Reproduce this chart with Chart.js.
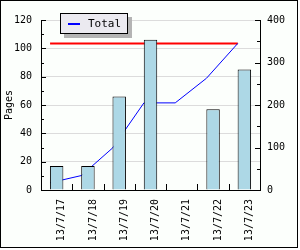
<!DOCTYPE html>
<html>
<head>
<meta charset="utf-8">
<script src="https://cdn.jsdelivr.net/npm/chart.js@4"></script>
<style>
  body { margin: 0; background: #fff; }
  #wrap { position: relative; width: 300px; height: 250px; }
  #frame { position: absolute; left: 0; top: 0; width: 296px; height: 246px; border: 1px solid #000; background: #fcfffc; }
  #c { position: absolute; left: 0; top: 0; }
  #legend {
    position: absolute; left: 60px; top: 13px; width: 66px; height: 19px;
    border: 1px solid #000; background: #ebeaf0; box-shadow: 4px 4px 0 #b4b4b4;
    font: 11px "DejaVu Sans Mono", monospace; color: #000;
  }
  #legend .sw { position: absolute; left: 7px; top: 9px; width: 12px; height: 2px; background: #0000ff; }
  #legend .tx { position: absolute; left: 27px; top: 3px; }
</style>
</head>
<body>
<div id="wrap">
  <div id="frame"></div>
  <canvas id="c" width="300" height="250"></canvas>
  <div id="legend"><span class="sw"></span><span class="tx">Total</span></div>
</div>
<script>
const labels = ['13/7/17', '13/7/18', '13/7/19', '13/7/20', '13/7/21', '13/7/22', '13/7/23'];
const pages = [17, 17, 66, 106, 0, 57, 85];
const total = [17, 34, 99, 205, 205, 263, 345];
const limit = [345, 345, 345, 345, 345, 345, 345];

const FONT = { family: 'DejaVu Sans Mono', size: 10 };

// ticks pointing into the plot, like the original
const inwardTicks = {
    id: 'inwardTicks',
    afterDraw(chart) {
        const ctx = chart.ctx, a = chart.chartArea;
        ctx.save();
        ctx.strokeStyle = '#000';
        ctx.lineWidth = 1;
        const seg = (x1, y1, x2, y2) => { ctx.beginPath(); ctx.moveTo(x1, y1); ctx.lineTo(x2, y2); ctx.stroke(); };

        const yl = chart.scales.y;
        yl.ticks.forEach(t => {
            const py = Math.round(yl.getPixelForValue(t.value)) + 0.5;
            seg(a.left, py, a.left + (t.value % 20 === 0 ? 5 : 3), py);
        });
        const yr = chart.scales.y2;
        yr.ticks.forEach(t => {
            const py = Math.round(yr.getPixelForValue(t.value)) + 0.5;
            seg(a.right, py, a.right - (t.value % 100 === 0 ? 5 : 3), py);
        });
        const xs = chart.scales.x;
        for (let i = 1; i < labels.length; i++) {
            const px = Math.round((xs.getPixelForTick(i - 1) + xs.getPixelForTick(i)) / 2) + 0.5;
            seg(px, a.bottom, px, a.bottom - 6);
        }
        ctx.restore();
    }
};

new Chart(document.getElementById('c'), {
    data: {
        labels: labels,
        datasets: [
            {
                type: 'bar',
                label: 'Pages',
                data: pages,
                backgroundColor: '#add8e6',
                borderColor: '#000',
                borderWidth: 1,
                grouped: false,
                barPercentage: 0.43,
                categoryPercentage: 1,
                xAxisID: 'x',
                yAxisID: 'y',
                order: 1
            },
            {
                type: 'line',
                label: 'Total',
                data: total.map((v, i) => ({ x: i, y: v })),
                borderColor: '#0000ff',
                borderWidth: 1,
                pointRadius: 0,
                tension: 0,
                xAxisID: 'xl',
                yAxisID: 'y2',
                order: 2
            },
            {
                type: 'line',
                label: 'Limit',
                data: limit.map((v, i) => ({ x: i, y: v })),
                borderColor: '#ff0000',
                borderWidth: 2,
                pointRadius: 0,
                xAxisID: 'xl',
                yAxisID: 'y2',
                order: 3
            }
        ]
    },
    options: {
        responsive: false,
        animation: false,
        devicePixelRatio: 1,
        layout: { padding: { top: 20, left: 0, right: 0, bottom: 0 } },
        plugins: { legend: { display: false }, tooltip: { enabled: false } },
        scales: {
            x: {
                type: 'category',
                offset: true,
                grid: { color: 'rgba(0,0,0,0)', drawTicks: false, drawOnChartArea: false },
                border: { display: true, color: '#000', width: 1 },
                ticks: { font: FONT, color: '#000', autoSkip: false, minRotation: 90, maxRotation: 90,
                         padding: 9, labelOffset: 5 },
                afterFit: s => { s.height = 60; }
            },
            xl: { type: 'linear', display: false, min: -0.29, max: 6.71 },
            y: {
                position: 'left',
                min: 0, max: 120,
                grid: {
                    color: c => (c.tick && c.tick.value % 20 === 0) ? '#dcdcdc' : 'rgba(0,0,0,0)',
                    drawTicks: false
                },
                border: { display: true, color: '#000', width: 1 },
                ticks: { stepSize: 10, autoSkip: false, font: FONT, color: '#000', padding: 9,
                         callback: v => v % 20 === 0 ? v : '' },
                title: { display: true, text: 'Pages', font: FONT, color: '#000', padding: { top: 3, bottom: 0 } },
                afterFit: s => { s.width = 41; }
            },
            y2: {
                position: 'right',
                min: 0, max: 400,
                grid: { drawOnChartArea: false, drawTicks: false },
                border: { display: true, color: '#000', width: 1 },
                ticks: { stepSize: 50, autoSkip: false, font: FONT, color: '#000', padding: 7,
                         callback: v => v % 100 === 0 ? v : '' },
                afterFit: s => { s.width = 40; }
            }
        }
    },
    plugins: [inwardTicks]
});
</script>
</body>
</html>
